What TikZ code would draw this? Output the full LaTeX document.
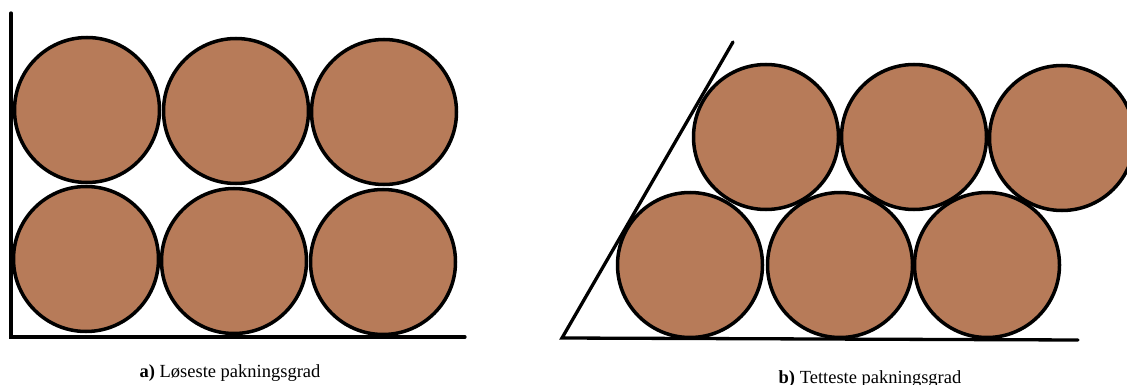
\documentclass[tikz,border=0pt]{standalone}
\usepackage{fontspec}
\setmainfont{Liberation Serif}
\definecolor{ballbrown}{RGB}{183,123,89}
\begin{document}
\begin{tikzpicture}[x=1pt,y=-1pt,
  ball/.style={circle,draw=black,fill=ballbrown,line width=3.5pt,minimum size=145pt,inner sep=0pt,outer sep=0pt},
  wall/.style={draw=black,line width=3.3pt,line cap=round,line join=miter},
  caption/.style={font=\fontsize{18.5}{22}\selectfont,anchor=base,inner sep=0pt}]
\useasboundingbox (0,0) rectangle (1127,385);
\clip (0,0) rectangle (1127,385);
% panel a
\node[ball] (a11) at (87,110) {};
\node[ball] (a12) at (236,111) {};
\node[ball] (a13) at (384,112) {};
\node[ball] (a21) at (86,259) {};
\node[ball] (a22) at (234,261) {};
\node[ball] (a23) at (383,262) {};
\coordinate (aTop) at (11,13);
\coordinate (aCorner) at (11,337);
\coordinate (aEnd) at (465,337);
\path[wall] (aTop) -- (aCorner) -- (aEnd);
\node[caption] (capa) at (230,377) {\textbf{a)} Løseste pakningsgrad};
% panel b
\node[ball] (b21) at (690,265) {};
\node[ball] (b22) at (840,265) {};
\node[ball] (b23) at (987,265) {};
\node[ball] (b11) at (766,137) {};
\node[ball] (b12) at (914,137) {};
\node[ball] (b13) at (1062,138) {};
\coordinate (bTop) at (733,42);
\coordinate (bCorner) at (562,338);
\coordinate (bEnd) at (1078,340);
\path[wall] (bTop) -- (bCorner) -- (bEnd);
\node[caption] (capb) at (870,383) {\textbf{b)} Tetteste pakningsgrad};
\end{tikzpicture}
\end{document}
